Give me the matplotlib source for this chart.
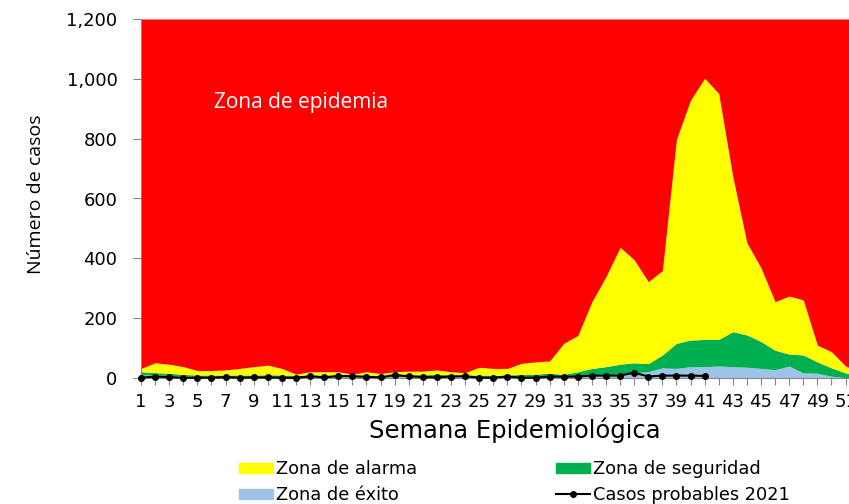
import numpy as np
import matplotlib
matplotlib.use('Agg')
import matplotlib.pyplot as plt
from matplotlib.patches import Patch
from matplotlib.lines import Line2D

# semanas epidemiologicas
semanas = np.arange(1, 53)

# limites superiores de cada zona (canal endemico)
exito = [10, 10, 9, 7, 5, 5, 5, 5, 5, 5, 5, 4, 4, 4, 4, 4, 4, 4, 4, 5, 5, 5, 5, 5, 5, 5,
         5, 5, 5, 5, 6, 7, 8, 10, 14, 18, 21, 34, 32, 38, 38, 40, 38, 36, 32, 28, 40, 17,
         16, 6, 1, 0]
seguridad = [21, 18, 16, 12, 10, 10, 10, 10, 10, 11, 10, 9, 10, 10, 10, 9, 10, 9, 10, 11,
             11, 12, 11, 10, 10, 9, 10, 12, 13, 16, 12, 21, 32, 38, 46, 51, 48, 77, 116, 127,
             129, 129, 155, 144, 122, 93, 80, 77, 54, 34, 17, 5]
alarma = [32, 51, 46, 38, 25, 25, 27, 32, 38, 43, 32, 13, 21, 21, 21, 13, 21, 15, 21, 23,
          23, 27, 21, 18, 36, 32, 32, 49, 54, 57, 116, 142, 255, 339, 437, 395, 322, 359,
          798, 929, 1002, 951, 673, 452, 368, 255, 274, 261, 110, 88, 40, 20]
epidemia = [1200] * 52

# casos probables 2021 (semanas 1 a 41)
casos_2021 = [1, 5, 3, 1, 1, 1, 3, 1, 2, 2, 1, 0, 6, 2, 7, 6, 4, 2, 10, 6, 3, 2, 5, 6, 1,
              1, 5, 1, 1, 5, 4, 5, 8, 8, 8, 18, 5, 8, 8, 8, 7]

rojo = '#FF0000'
amarillo = '#FFFF00'
verde = '#00B050'
azul = '#9DC3E6'
gris = '#868686'

fig = plt.figure(figsize=(8.49, 5.04), dpi=100)
ax = fig.add_axes([141 / 849, 126 / 504, (859.6 - 141) / 849, 359 / 504])

ax.fill_between(semanas, 0, exito, color=azul, lw=0)
ax.fill_between(semanas, exito, seguridad, color=verde, lw=0)
ax.fill_between(semanas, seguridad, alarma, color=amarillo, lw=0)
ax.fill_between(semanas, alarma, epidemia, color=rojo, lw=0)
ax.plot(semanas[:len(casos_2021)], casos_2021, color='black', lw=1.5,
        marker='o', ms=4, clip_on=False, zorder=5)

ax.set_xlim(1, 52)
ax.set_ylim(0, 1200)
ax.set_yticks(range(0, 1201, 200))
ax.set_yticklabels(['{:,}'.format(v) for v in range(0, 1201, 200)])
ax.set_xticks(semanas)
# la etiqueta 51 queda cortada en el borde, como en el original
ax.set_xticklabels([str(s) if s % 2 == 1 else '' for s in semanas])
ax.tick_params(axis='y', direction='out', length=6, color=gris, pad=11, labelsize=13)
ax.tick_params(axis='x', direction='out', length=5, color=gris, pad=6, labelsize=13)
for s in ['top', 'right']:
    ax.spines[s].set_visible(False)
for s in ['left', 'bottom']:
    ax.spines[s].set_color(gris)

ax.text(6.2, 922, 'Zona de epidemia', color='white', fontsize=15,
        family=['Open Sans', 'DejaVu Sans'], va='center', ha='left')

fig.text(515 / 849, 1 - 430 / 504, 'Semana Epidemiológica', fontsize=17.5,
         ha='center', va='center')
fig.text(36 / 849, 1 - 194 / 504, 'Número de casos', fontsize=14, rotation=90,
         family=['Open Sans', 'DejaVu Sans'], ha='center', va='center')

handles = [Patch(color=amarillo, label='Zona de alarma'),
           Patch(color=azul, label='Zona de éxito'),
           Patch(color=verde, label='Zona de seguridad'),
           Line2D([], [], color='black', lw=1.5, marker='o', ms=4,
                  label='Casos probables 2021')]
fig.legend(handles=handles, ncol=2, loc='upper left',
           bbox_to_anchor=(239 / 849, 1 - 460 / 504), frameon=False,
           fontsize=12.8, borderpad=0, borderaxespad=0, handlelength=1.9,
           handleheight=0.5, handletextpad=0.2, columnspacing=7.8,
           labelspacing=0.45)

fig.savefig('out.png', dpi=100)
